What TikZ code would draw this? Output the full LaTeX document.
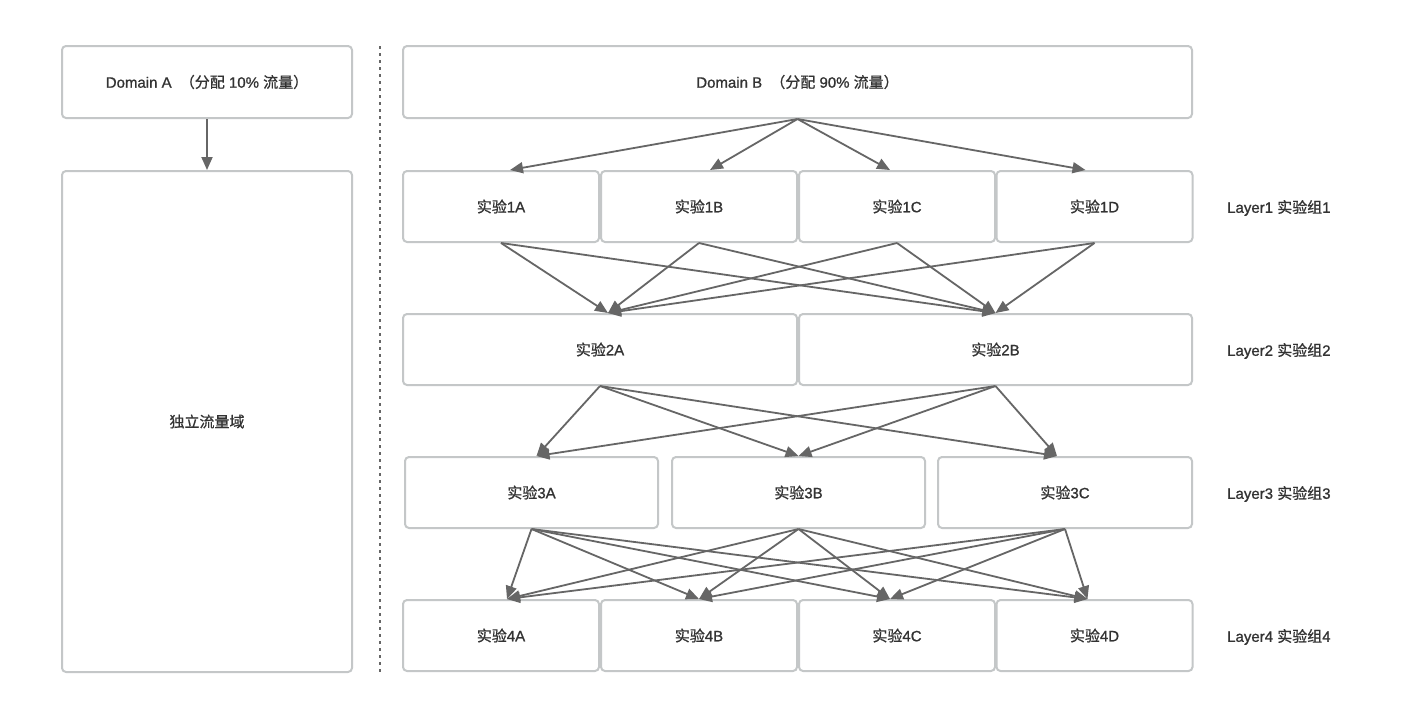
\documentclass[tikz,border=0pt]{standalone}
\usepackage{fontspec}
\setmainfont{Liberation Sans}[FakeBold=1]
\newfontfamily\cjk{Noto Sans CJK SC}[FakeBold=0.8]
\usetikzlibrary{arrows.meta}
\definecolor{bordc}{HTML}{C4C7C8}
\definecolor{arrc}{HTML}{666666}
\definecolor{txtc}{HTML}{333333}
\tikzset{
  box/.style={draw=bordc, line width=2pt, rounded corners=4pt, fill=white, text=txtc,
    font=\fontsize{15}{17}\selectfont, inner sep=0pt},
  conn/.style={draw=arrc, line width=1.8pt, -{Triangle[length=13pt,width=11pt]}},
  lbl/.style={text=txtc, font=\fontsize{15}{17}\selectfont, anchor=west, inner sep=0pt},
  sep/.style={draw=arrc, line width=1.5pt, dash pattern=on 3pt off 4pt}
}
\begin{document}
\begin{tikzpicture}[x=1pt,y=-1pt]
\useasboundingbox[fill=white] (0,0) rectangle (1418,718);
% left
\node[box, minimum width=290pt, minimum height=72pt] (doma) at (207,82) {Domain A\hspace{4pt} {\cjk （分配} 10\% {\cjk 流量）}};
\node[box, minimum width=290pt, minimum height=501pt] (indep) at (207,421.5) {\cjk 独立流量域};
\draw[conn] (doma.south) -- (indep.north);
% separator
\coordinate (septop) at (380,46);
\coordinate (sepbot) at (380,672);
\draw[sep] (septop) -- (sepbot);
% domain B
\node[box, minimum width=789pt, minimum height=72pt] (domb) at (797.5,82) {Domain B\hspace{4pt} {\cjk （分配} 90\% {\cjk 流量）}};
% layer 1
\foreach \n/\x in {A/501, B/699, C/897, D/1094.5}{
  \node[box, minimum width=196pt, minimum height=71pt] (l1\n) at (\x,206.5) {{\cjk 实验}1\n};
}
% layer 2
\node[box, minimum width=394pt, minimum height=71pt] (l2A) at (600,349.5) {{\cjk 实验}2A};
\node[box, minimum width=393pt, minimum height=71pt] (l2B) at (995.5,349.5) {{\cjk 实验}2B};
% layer 3
\node[box, minimum width=253pt, minimum height=71pt] (l3A) at (531.5,492.5) {{\cjk 实验}3A};
\node[box, minimum width=253pt, minimum height=71pt] (l3B) at (798.5,492.5) {{\cjk 实验}3B};
\node[box, minimum width=254pt, minimum height=71pt] (l3C) at (1065,492.5) {{\cjk 实验}3C};
% layer 4
\foreach \n/\x in {A/501, B/699, C/897, D/1094.5}{
  \node[box, minimum width=196pt, minimum height=71pt] (l4\n) at (\x,635.5) {{\cjk 实验}4\n};
}
% labels
\node[lbl] (lab1) at (1227,208) {Layer1 {\cjk 实验组}1};
\node[lbl] (lab2) at (1227,351) {Layer2 {\cjk 实验组}2};
\node[lbl] (lab3) at (1227,494) {Layer3 {\cjk 实验组}3};
\node[lbl] (lab4) at (1227,637) {Layer4 {\cjk 实验组}4};
% domain B -> layer 1
\draw[conn] (domb.south) -- ([xshift=9pt]l1A.north);
\draw[conn] (domb.south) -- ([xshift=11pt]l1B.north);
\draw[conn] (domb.south) -- ([xshift=-7pt]l1C.north);
\draw[conn] (domb.south) -- ([xshift=-9pt]l1D.north);
% layer 1 -> layer 2
\foreach \s in {A,B,C,D}{
  \draw[conn] (l1\s.south) -- ([xshift=8pt]l2A.north);
  \draw[conn] (l1\s.south) -- (l2B.north);
}
% layer 2 -> layer 3
\foreach \s in {A,B}{
  \draw[conn] (l2\s.south) -- ([xshift=5pt]l3A.north);
  \draw[conn] (l2\s.south) -- (l3B.north);
  \draw[conn] (l2\s.south) -- ([xshift=-8pt]l3C.north);
}
% layer 3 -> layer 4
\foreach \s in {A,B,C}{
  \draw[conn] (l3\s.south) -- ([xshift=6pt]l4A.north);
  \draw[conn] (l3\s.south) -- (l4B.north);
  \draw[conn] (l3\s.south) -- ([xshift=-7pt]l4C.north);
  \draw[conn] (l3\s.south) -- ([xshift=-7pt]l4D.north);
}
\end{tikzpicture}
\end{document}
